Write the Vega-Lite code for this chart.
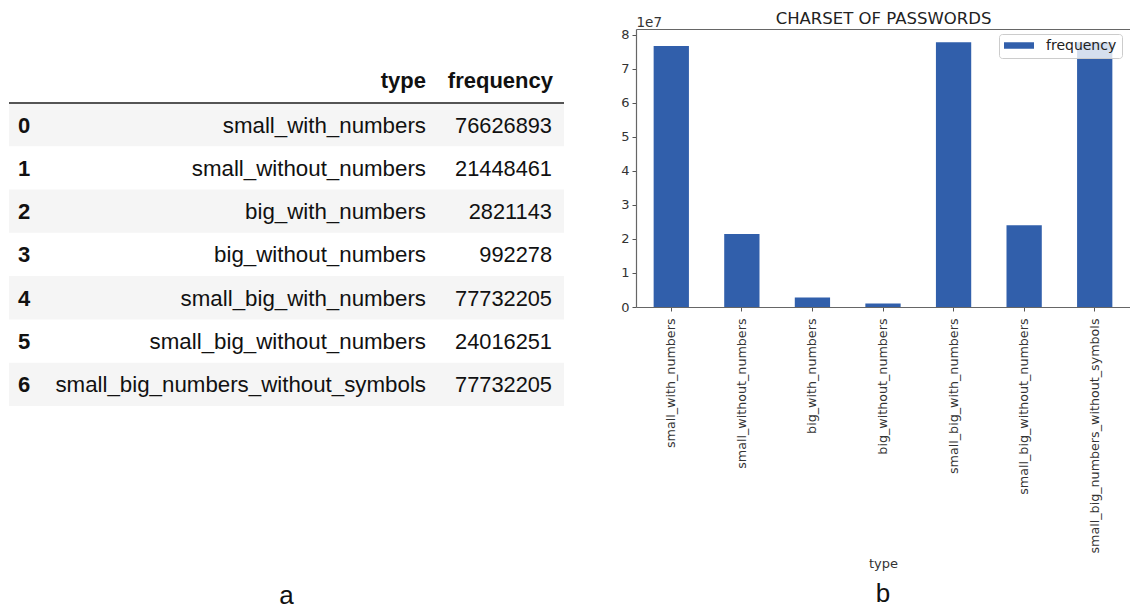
{
  "$schema": "https://vega.github.io/schema/vega-lite/v6.json",
  "background": "white",
  "padding": {"left": 8, "top": 10, "right": 0, "bottom": 0},
  "bounds": "flush",
  "spacing": 72,
  "config": {"view": {"stroke": null}, "font": "DejaVu Sans"},
  "datasets": {
    "pw": [
      {"index": 0, "type": "small_with_numbers", "frequency": 76626893},
      {"index": 1, "type": "small_without_numbers", "frequency": 21448461},
      {"index": 2, "type": "big_with_numbers", "frequency": 2821143},
      {"index": 3, "type": "big_without_numbers", "frequency": 992278},
      {"index": 4, "type": "small_big_with_numbers", "frequency": 77732205},
      {"index": 5, "type": "small_big_without_numbers", "frequency": 24016251},
      {"index": 6, "type": "small_big_numbers_without_symbols", "frequency": 77732205}
    ]
  },
  "hconcat": [
    {
      "width": 555,
      "height": 377,
      "data": {"name": "pw"},
      "title": {"text": "a", "orient": "bottom", "frame": "group", "anchor": "middle", "font": "Liberation Sans", "fontSize": 26, "fontWeight": "normal", "color": "#111", "offset": 177},
      "layer": [
        {
          "transform": [{"filter": "datum.index % 2 == 0"}],
          "mark": {"type": "rect", "color": "#f5f5f5"},
          "encoding": {
            "y": {"field": "index", "type": "ordinal", "axis": null,
                  "scale": {"type": "band", "domain": ["h", 0, 1, 2, 3, 4, 5, 6], "paddingInner": 0, "paddingOuter": 0.3535, "align": 1}}
          }
        },
        {
          "data": {"values": [{}]},
          "mark": {"type": "rule", "color": "#555", "strokeWidth": 2},
          "encoding": {"y": {"datum": 0, "type": "ordinal", "bandPosition": 0, "axis": null}}
        },
        {
          "mark": {"type": "text", "align": "left", "baseline": "middle", "dx": 9, "dy": 1, "font": "Liberation Sans", "fontSize": 22, "fontWeight": "bold", "color": "#111"},
          "encoding": {
            "y": {"field": "index", "type": "ordinal", "axis": null},
            "x": {"datum": "idx", "type": "nominal", "axis": null, "scale": {"type": "point", "domain": ["idx", "type", "frequency"], "padding": 0}},
            "text": {"field": "index", "type": "nominal"}
          }
        },
        {
          "mark": {"type": "text", "align": "right", "baseline": "middle", "dx": 139.5, "dy": 1, "font": "Liberation Sans", "fontSize": 22.3, "color": "#111"},
          "encoding": {
            "y": {"field": "index", "type": "ordinal", "axis": null},
            "x": {"datum": "type", "type": "nominal", "axis": null},
            "text": {"field": "type", "type": "nominal"}
          }
        },
        {
          "mark": {"type": "text", "align": "right", "baseline": "middle", "dx": -12, "dy": 1, "font": "Liberation Sans", "fontSize": 21.8, "color": "#111"},
          "encoding": {
            "y": {"field": "index", "type": "ordinal", "axis": null},
            "x": {"datum": "frequency", "type": "nominal", "axis": null},
            "text": {"field": "frequency", "type": "nominal"}
          }
        },
        {
          "data": {"values": [{}]},
          "mark": {"type": "text", "align": "right", "baseline": "middle", "dx": 139.5, "font": "Liberation Sans", "fontSize": 22, "fontWeight": "bold", "color": "#111"},
          "encoding": {
            "y": {"datum": "h", "type": "ordinal", "axis": null},
            "x": {"datum": "type", "type": "nominal", "axis": null},
            "text": {"value": "type"}
          }
        },
        {
          "data": {"values": [{}]},
          "mark": {"type": "text", "align": "right", "baseline": "middle", "dx": -11, "font": "Liberation Sans", "fontSize": 22, "fontWeight": "bold", "color": "#111"},
          "encoding": {
            "y": {"datum": "h", "type": "ordinal", "axis": null},
            "x": {"datum": "frequency", "type": "nominal", "axis": null},
            "text": {"value": "frequency"}
          }
        }
      ]
    },
    {
      "width": 494,
      "height": 278,
      "data": {"name": "pw"},
      "title": {"text": "b", "orient": "bottom", "frame": "group", "anchor": "middle", "font": "Liberation Sans", "fontSize": 26, "fontWeight": "normal", "color": "#111", "offset": 11},
      "layer": [
        {
          "mark": {"type": "bar", "color": "#315fab"},
          "encoding": {
            "x": {"field": "type", "type": "nominal", "sort": null,
                  "scale": {"paddingInner": 0.5, "paddingOuter": 0.25},
                  "axis": {"orient": "bottom", "title": "type", "labelAngle": -90, "labelLimit": 400, "labelFont": "DejaVu Sans", "labelFontSize": 12.7, "labelColor": "#333", "labelPadding": 7, "tickSize": 4, "tickColor": "#555", "domainColor": "#666", "domainWidth": 1.2, "titleFont": "DejaVu Sans", "titleFontSize": 13, "titleFontWeight": "normal", "titleColor": "#333", "titleBaseline": "alphabetic", "titleY": 260}},
            "y": {"field": "frequency", "type": "quantitative",
                  "scale": {"domain": [0, 81618815], "nice": false, "zero": true},
                  "axis": {"values": [0, 10000000, 20000000, 30000000, 40000000, 50000000, 60000000, 70000000, 80000000], "labelExpr": "datum.value / 10000000", "grid": false, "tickSize": 4, "tickColor": "#555", "domainColor": "#666", "domainWidth": 1.2, "labelFont": "DejaVu Sans", "labelFontSize": 13, "labelColor": "#333", "labelPadding": 3,
                           "title": "1e7", "titleAngle": 0, "titleX": 0, "titleY": -3, "titleAlign": "left", "titleBaseline": "alphabetic", "titleFont": "DejaVu Sans", "titleFontSize": 13.5, "titleFontWeight": "normal", "titleColor": "#333"}},
            "color": {"datum": "frequency", "type": "nominal", "scale": {"range": ["#315fab"]},
                      "legend": {"orient": "none", "legendX": 990, "legendY": 5, "title": null, "symbolType": "M-1,-0.22H1V0.22H-1Z", "symbolSize": 900, "symbolStrokeWidth": 0, "clipHeight": 13, "labelFont": "DejaVu Sans", "labelFontSize": 14, "labelColor": "#222", "labelOffset": 12, "padding": 5, "fillColor": "rgba(255,255,255,0.8)", "strokeColor": "#cccccc", "cornerRadius": 3}}
          }
        },
        {
          "mark": {"type": "tick", "opacity": 0},
          "encoding": {
            "x": {"field": "type", "type": "nominal", "sort": null,
                  "axis": {"orient": "top", "title": "CHARSET OF PASSWORDS", "labels": false, "ticks": false, "domain": true, "domainColor": "#666", "domainWidth": 1.2, "titleFont": "DejaVu Sans", "titleFontSize": 16.5, "titleFontWeight": "normal", "titleColor": "#222", "titleBaseline": "alphabetic", "titlePadding": 6}}
          }
        }
      ],
      "resolve": {"axis": {"x": "independent"}}
    }
  ]
}
